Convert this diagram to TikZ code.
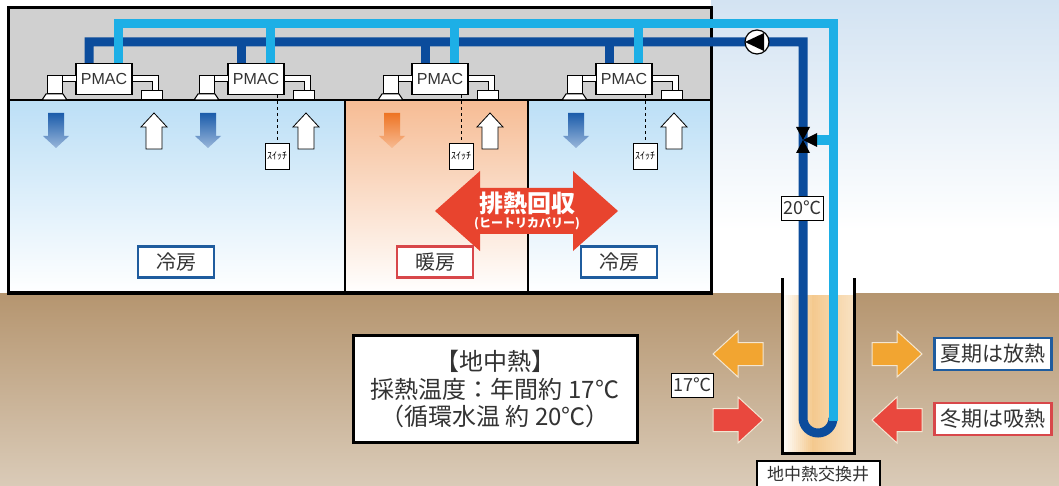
\documentclass[tikz,border=0pt]{standalone}
\usepackage{fontspec}
\setmainfont{Noto Sans CJK JP}
\newfontfamily\latinfont{Liberation Sans}
\usepackage{tikz}
\usetikzlibrary{calc}

\definecolor{pipedark}{HTML}{0B4C9C}
\definecolor{pipelight}{HTML}{1DAFE6}
\definecolor{ceilgray}{HTML}{D0D0D0}
\definecolor{skytop}{HTML}{D3E3F2}
\definecolor{coolroom}{HTML}{BCDFF6}
\definecolor{warmroom}{HTML}{F6BC94}
\definecolor{soiltop}{HTML}{B5956F}
\definecolor{soilbot}{HTML}{DACBB8}
\definecolor{soilpale}{HTML}{F3E6D2}
\definecolor{heatred}{HTML}{E8442E}
\definecolor{gndorange}{HTML}{F2A531}
\definecolor{gndred}{HTML}{E9483E}
\definecolor{airblue}{HTML}{1B5CAB}
\definecolor{airorange}{HTML}{EE7424}
\definecolor{labelblue}{HTML}{1F5C9E}
\definecolor{labelred}{HTML}{D8474A}
\definecolor{inkgray}{HTML}{333333}
\definecolor{wellpeach}{HTML}{F4C98E}

\tikzset{
  pipe/.style={line width=9pt},
  darkpipe/.style={pipe, draw=pipedark},
  lightpipe/.style={pipe, draw=pipelight},
  pmac/.style={draw, fill=white, line width=1.2pt, minimum width=56pt, minimum height=31pt,
    inner sep=0pt, text=inkgray, font=\latinfont\fontsize{16}{16}\selectfont},
  duct/.style={draw, fill=white, line width=1pt},
  switchbox/.style={draw, fill=white, line width=0.8pt, minimum width=24pt, minimum height=26pt,
    inner sep=0pt, font=\fontsize{10}{10}\selectfont},
  roomlabel/.style={draw=#1, line width=2.5pt, fill=white, minimum width=76pt, minimum height=31pt,
    inner sep=0pt, text=inkgray, font=\fontsize{20}{20}\selectfont},
  templabel/.style={draw, fill=white, line width=0.8pt, inner sep=2pt, minimum height=24pt,
    text=inkgray, font=\fontsize{18}{18}\selectfont},
  gndarrow/.pic={
    \path[pic actions] (-25,-11.5) -- (0,-11.5) -- (0,-23) -- (25,0) -- (0,23) -- (0,11.5) -- (-25,11.5) -- cycle;
  }
}

\begin{document}
\begin{tikzpicture}[x=1pt, y=-1pt]
\useasboundingbox (0,0) rectangle (1059,486);

% sky and soil
\shade[top color=skytop, bottom color=white] (711,0) rectangle (1059,230);
\shade[top color=soiltop, bottom color=soilbot] (0,293) rectangle (1059,486);

% building: ceiling space and three rooms
\fill[ceilgray] (8,8) rectangle (711,100);
\shade[top color=coolroom, bottom color=white] (8,100) rectangle (345,293);
\shade[top color=warmroom, bottom color=white] (345,100) rectangle (528,293);
\shade[top color=coolroom, bottom color=white] (528,100) rectangle (711,293);
\draw[line width=2.5pt] (8,100) -- (711,100) (345,100) -- (345,293) (528,100) -- (528,293);
\draw[line width=3pt] (8,8) rectangle (711,293);
\draw[line width=4pt] (8,293) -- (711,293);

% heat exchange well, filled in thin strips
\fill[white] (782,278) rectangle (854,453);
\foreach \i in {0,2,...,70}{
  \pgfmathsetmacro\m{ifthenelse(\i<30, 100*\i/30, 100-45*(\i-30)/40)}
  \fill[wellpeach!\m!white] (782+\i,295) rectangle (784.6+\i,453);
}
\draw[line width=3pt] (782,278) -- (782,453) -- (854,453) -- (854,278);

% indoor units
\foreach \cx/\n in {104/1,256/2,440/3,624/4}{
  \node[pmac] (pm\n) at (\cx,79) {PMAC};
  \draw[duct] (\cx-44,76) rectangle (\cx-28,82);
  \draw[duct] (\cx-57,76) rectangle (\cx-42,94);
  \draw[duct] (\cx-62,100) -- (\cx-58,94) -- (\cx-41,94) -- (\cx-37,100) -- cycle;
  \draw[duct] (\cx+28,76) -- (\cx+54,76) -- (\cx+54,92) -- (\cx+48,92) -- (\cx+48,82) -- (\cx+28,82) -- cycle;
  \draw[duct] (\cx+37,91) rectangle (\cx+58,100);
  % return air
  \draw[fill=white, line width=0.8pt] (\cx+50,113) -- (\cx+63,127) -- (\cx+58,127) -- (\cx+58,149)
    -- (\cx+42,149) -- (\cx+42,127) -- (\cx+37,127) -- cycle;
  \coordinate (d\n) at ([xshift=-15pt]pm\n.north);
  \coordinate (l\n) at ([xshift=14pt]pm\n.north);
}

% supply air
\foreach \x/\ca/\cb in {56/airblue/airblue!45, 208/airblue/airblue!45, 392/airorange/airorange!50, 576/airblue/airblue!45}{
  \shade[top color=\ca, bottom color=\cb] (\x-8,113) -- (\x+8,113) -- (\x+8,136) -- (\x+13,136)
    -- (\x,148) -- (\x-13,136) -- (\x-8,136) -- cycle;
}

% switches
\node[switchbox] (sw2) at (277,156) {ｽｲｯﾁ};
\node[switchbox] (sw3) at (461,156) {ｽｲｯﾁ};
\node[switchbox] (sw4) at (645,156) {ｽｲｯﾁ};
\draw[dashed, line width=0.8pt] (pm2.south -| sw2) -- (sw2.north);
\draw[dashed, line width=0.8pt] (pm3.south -| sw3) -- (sw3.north);
\draw[dashed, line width=0.8pt] (pm4.south -| sw4) -- (sw4.north);

% water circuit
\coordinate (dturn) at (803,42);
\coordinate (lturn) at (833,24);
\coordinate (ubend) at (803,418);
\coordinate (lend) at (833,421);
\draw[darkpipe] (d1) |- (dturn) -- (ubend) arc(180:0:15);
\foreach \n in {2,3,4}{
  \draw[darkpipe] (d\n) -- (d\n |- dturn);
}
\draw[lightpipe] (l1) |- (lturn) -- (lend);
\foreach \n in {2,3,4}{
  \draw[lightpipe] (l\n) -- (l\n |- lturn);
}

% pump
\node[circle, draw, fill=white, line width=1.2pt, minimum size=24pt, inner sep=0pt] (pump) at (757,42) {};
\fill (745,42) -- (764,33) -- (764,51) -- cycle;

% three-way valve
\coordinate (valve) at (803,140);
\draw[lightpipe, line width=10pt] ([xshift=13pt]valve) -- (lend |- valve);
\fill (796,127) -- (810,127) -- (valve) -- cycle;
\fill (796,153) -- (810,153) -- (valve) -- cycle;
\fill (valve) -- (817,133) -- (817,147) -- cycle;

% heat recovery
\fill[heatred] (435,211) -- (480,171) -- (480,188) -- (573,188) -- (573,171) -- (618,211)
  -- (573,251) -- (573,234) -- (480,234) -- (480,251) -- cycle;
\node[text=white, align=center, font=\bfseries, inner sep=0pt] (recovery) at (527,211)
  {{\fontsize{24}{26}\selectfont 排熱回収}\\[1pt]{\fontsize{12}{13}\selectfont (ヒートリカバリー)}};

% room labels
\node[roomlabel=labelblue] (cool1) at (176,262) {冷房};
\node[roomlabel=labelred] (heat) at (435,262) {暖房};
\node[roomlabel=labelblue] (cool2) at (619,262) {冷房};

% temperatures
\node[templabel] (t20) at (802,208) {20℃};
\node[templabel] (t17) at (692,385) {17℃};

% ground heat
\node[draw, line width=3pt, fill=white, minimum width=284pt, minimum height=107pt, align=center,
  text=inkgray, font=\fontsize{24}{27.5}\selectfont] (info) at (495,389)
  {【地中熱】\\採熱温度：年間約 17℃\\（循環水温 約 20℃）};

\pic[fill=gndorange, draw=soilpale, line width=1pt, rotate=180] (outL) at (738,354) {gndarrow};
\pic[fill=gndorange, draw=soilpale, line width=1pt] (outR) at (897,354) {gndarrow};
\pic[fill=gndred, draw=soilpale, line width=1pt] (inL) at (738,420) {gndarrow};
\pic[fill=gndred, draw=soilpale, line width=1pt, rotate=180] (inR) at (897,420) {gndarrow};

\node[roomlabel=labelblue, minimum width=117pt, minimum height=32pt, font=\fontsize{21}{21}\selectfont] (summer) at (993,354) {夏期は放熱};
\node[roomlabel=labelred, minimum width=117pt, minimum height=32pt, font=\fontsize{21}{21}\selectfont] (winter) at (993,419) {冬期は吸熱};

\node[draw, line width=2pt, fill=white, minimum width=123pt, minimum height=26pt, inner sep=0pt,
  text=inkgray, font=\fontsize{17}{17}\selectfont] (wellname) at (818,474) {地中熱交換井};

\end{tikzpicture}
\end{document}
